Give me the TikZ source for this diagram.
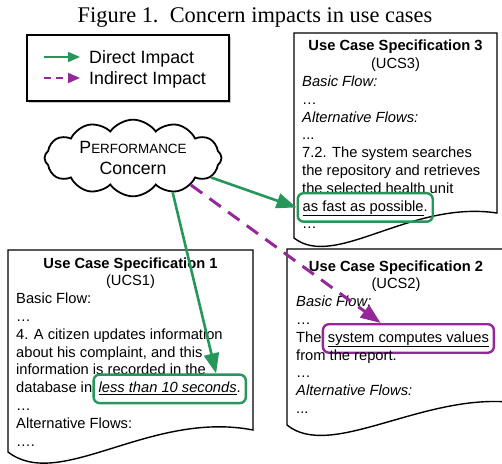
\documentclass[tikz,border=0pt]{standalone}
\usepackage{fontspec}
\setmainfont{Liberation Serif}
\newfontfamily\uifont{Liberation Sans}
\usetikzlibrary{arrows.meta,shapes.symbols,shadows,calc}
\definecolor{impgreen}{RGB}{38,150,90}
\definecolor{imppurple}{RGB}{148,40,152}

\begin{document}
\begin{tikzpicture}[x=1bp,y=-1bp,
  txt/.style={font=\uifont\fontsize{14.7bp}{17.8bp}\selectfont},
  ln/.style={txt, anchor=base west, inner sep=0pt},
  ttl/.style={txt, anchor=base, inner sep=0pt},
  legtext/.style={font=\uifont\fontsize{17.8bp}{21bp}\selectfont, anchor=base west, inner sep=0pt},
  docbox/.style={draw=black, line width=1.4bp, fill=white},
  legendbox/.style={draw=black, line width=1.5bp, fill=white, minimum width=202bp, minimum height=66bp,
    drop shadow={shadow xshift=2bp, shadow yshift=-2.5bp, opacity=0.45}},
  hl/.style={txt, draw, line width=2.4bp, rounded corners=6bp, text height=11bp, text depth=3.5bp,
    inner xsep=5bp, inner ysep=7bp, anchor=base west},
  direct/.style={draw=impgreen, line width=2.6bp, -{Triangle[length=20bp,width=15bp]}},
  indirect/.style={draw=imppurple, line width=3bp, dash pattern=on 14bp off 9bp, -{Triangle[length=20bp,width=15bp]}},
  legdirect/.style={draw=impgreen, line width=1.8bp, -{Triangle[length=12bp,width=10bp]}},
  legindirect/.style={draw=imppurple, line width=1.8bp, dash pattern=on 7bp off 5bp, -{Triangle[length=12bp,width=10bp]}}
]
\useasboundingbox (0,0) rectangle (502,464);
\clip (0,0) rectangle (502,464);

% caption
\node[anchor=base, inner sep=0pt, font=\fontsize{22.4bp}{26bp}\selectfont] (caption) at (255,23)
  {Figure 1.\enspace Concern impacts in use cases};

% legend
\node[legendbox] (legend) at (128,68) {};
\coordinate (lg-d0) at (44,57);
\coordinate (lg-d1) at (80,57);
\coordinate (lg-i0) at (44,78);
\coordinate (lg-i1) at (80,78);
\draw[legdirect] (lg-d0) -- (lg-d1);
\draw[legindirect] (lg-i0) -- (lg-i1);
\node[legtext] (lg-dt) at (89,63.3) {Direct Impact};
\node[legtext] (lg-it) at (89,84.5) {Indirect Impact};

% concern cloud
\node[cloud, draw, line width=1.8bp, fill=white, cloud puffs=12, cloud puff arc=110, aspect=2.6,
  minimum width=177bp, minimum height=68bp, inner sep=0pt, align=center,
  font=\uifont\fontsize{17.7bp}{21bp}\selectfont] (cloud) at (133,158)
  {P{\fontsize{13.4bp}{21bp}\selectfont ERFORMANCE}\\Concern};

% document outlines
\draw[docbox] (294,33) -- (497,33) -- (497,213) .. controls (410,200) and (335,270) .. (294,238) -- cycle;
\draw[docbox] (8,250) -- (253,250) -- (253,430) .. controls (150,410) and (60,492) .. (8,452) -- cycle;
\draw[docbox] (287,249) -- (508,249) -- (508,402) .. controls (420,395) and (330,460) .. (287,425) -- cycle;

% Use Case Specification 3
\node[ttl] (u3-1) at (395.5,51) {\bfseries Use Case Specification 3};
\node[ttl] (u3-2) at (395.5,68.8) {(UCS3)};
\node[ln] (u3-3) at (302,86.6) {\itshape Basic Flow:};
\node[ln] (u3-4) at (302,104.4) {…};
\node[ln] (u3-5) at (302,122.2) {\itshape Alternative Flows:};
\node[ln] (u3-6) at (302,140) {...};
\node[ln] (u3-7) at (302,157.8) {7.2. The system searches};
\node[ln] (u3-8) at (302,175.6) {the repository and retrieves};
\node[ln] (u3-9) at (302,193.4) {the selected health unit};
\node[hl, draw=impgreen] (u3hl) at (296.5,211.2) {\underline{as fast as possible}.};
\node[ln] (u3-11) at (302,229) {…};

% Use Case Specification 1
\node[ttl] (u1-1) at (130.5,268) {\bfseries Use Case Specification 1};
\node[ttl] (u1-2) at (130.5,285.8) {(UCS1)};
\node[ln] (u1-3) at (16,303.6) {Basic Flow:};
\node[ln] (u1-4) at (16,321.4) {…};
\node[ln] (u1-5) at (16,339.2) {4. A citizen updates information};
\node[ln] (u1-6) at (16,357) {about his complaint, and this};
\node[ln] (u1-7) at (16,374.8) {information is recorded in the};
\node[ln] (u1-8) at (16,392.6) {database in};
\node[hl, draw=impgreen] (u1hl) at (u1-8.base east) {\underline{\itshape less than 10 seconds}.};
\node[ln] (u1-9) at (16,410.4) {…};
\node[ln] (u1-10) at (16,428.2) {Alternative Flows:};
\node[ln] (u1-11) at (16,446) {….};

% Use Case Specification 2
\node[ttl] (u2-1) at (396,271) {\bfseries Use Case Specification 2};
\node[ttl] (u2-2) at (396,288.8) {(UCS2)};
\node[ln] (u2-3) at (296,306.6) {\itshape Basic Flow:};
\node[ln] (u2-4) at (296,324.4) {…};
\node[ln] (u2-5) at (296,342.2) {The};
\node[hl, draw=imppurple] (u2hl) at (u2-5.base east) {\underline{system computes values}};
\node[ln] (u2-6) at (296,360) {from the report.};
\node[ln] (u2-7) at (296,377.8) {…};
\node[ln] (u2-8) at (296,395.6) {\itshape Alternative Flows:};
\node[ln] (u2-9) at (296,413.4) {...};

% impacts
\draw[direct] (cloud.-14) -- (u3hl.west);
\draw[direct] (cloud.-41) -- ($(u1hl.north west)!0.8!(u1hl.north east)$);
\draw[indirect] (cloud.-25) -- ($(u2hl.north west)!0.34!(u2hl.north east)$);
\end{tikzpicture}
\end{document}
